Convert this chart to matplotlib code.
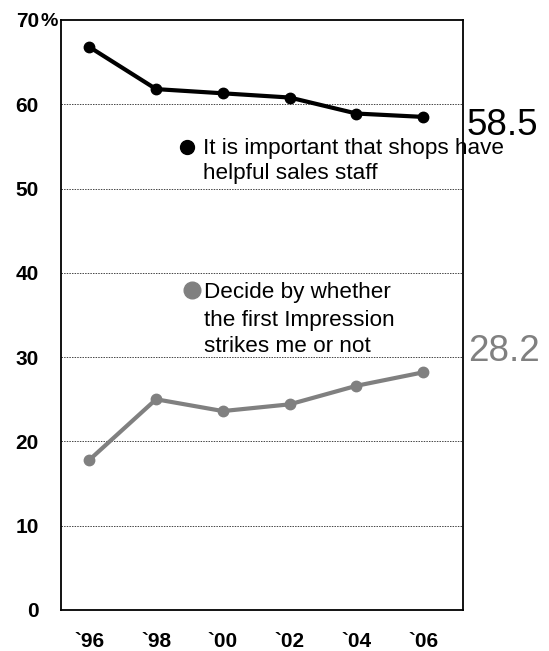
import matplotlib
matplotlib.use("Agg")
import matplotlib.pyplot as plt

plt.rcParams['font.family'] = ['Liberation Sans', 'DejaVu Sans']

# Survey years and shares of respondents (%)
years = ["`96", "`98", "`00", "`02", "`04", "`06"]
helpful_staff = [66.8, 61.8, 61.3, 60.8, 58.9, 58.5]
first_impression = [17.8, 25.0, 23.6, 24.4, 26.6, 28.2]
y_ticks = [0, 10, 20, 30, 40, 50, 60, 70]

helpful_label = ["It is important that shops have", "helpful sales staff"]
impression_label = ["Decide by whether", "the first Impression", "strikes me or not"]

BLACK = "#000000"
GRAY = "#808080"

fig = plt.figure(figsize=(5.49, 6.51), dpi=100)
ax = fig.add_axes([0.1111, 0.0630, 0.7322, 0.9063])

x = list(range(len(years)))
ax.plot(x, helpful_staff, color=BLACK, lw=3.0, marker="o", ms=7.5, zorder=3)
ax.plot(x, first_impression, color=GRAY, lw=3.0, marker="o", ms=7.5, zorder=3)

ax.set_xlim(-0.424, 5.594)
ax.set_ylim(0, 70)
ax.set_xticks(x)
ax.set_xticklabels(years)
ax.set_yticks(y_ticks)
ax.set_yticklabels([str(v) for v in y_ticks])
ax.tick_params(axis="both", length=0, labelsize=15)
ax.tick_params(axis="y", pad=16)
ax.tick_params(axis="x", pad=16)
for lab in ax.get_xticklabels() + ax.get_yticklabels():
    lab.set_fontweight("bold")

# percent sign after the top tick value
ax.text(-0.735, 70, "%", fontsize=14, fontweight="bold", ha="left",
        va="center_baseline", clip_on=False)

for v in y_ticks[1:-1]:
    ax.axhline(v, color="#444444", lw=0.7, ls=(0, (1.5, 1.2)), zorder=1)

for s in ax.spines.values():
    s.set_color(BLACK)
    s.set_linewidth(1.3)

# end-of-series value labels
ax.text(5.654, 56.4, f"{helpful_staff[-1]:.1f}", fontsize=26.5, color=BLACK,
        ha="left", va="baseline", clip_on=False)
ax.text(5.669, 29.57, f"{first_impression[-1]:.1f}", fontsize=26.5, color=GRAY,
        ha="left", va="baseline", clip_on=False)

# series captions
ax.plot([1.46], [54.96], marker="o", ms=10, color=BLACK, zorder=4)
for line, yb in zip(helpful_label, [54.1, 51.1]):
    ax.text(1.70, yb, line, fontsize=16.2, ha="left", va="baseline",
            color=BLACK, clip_on=False, zorder=4)

ax.plot([1.533], [37.96], marker="o", ms=12, color=GRAY, zorder=4)
for line, yb in zip(impression_label, [36.97, 33.69, 30.64]):
    ax.text(1.717, yb, line, fontsize=16.2, ha="left", va="baseline",
            color=BLACK, zorder=4)

fig.savefig("out.png", dpi=100)
